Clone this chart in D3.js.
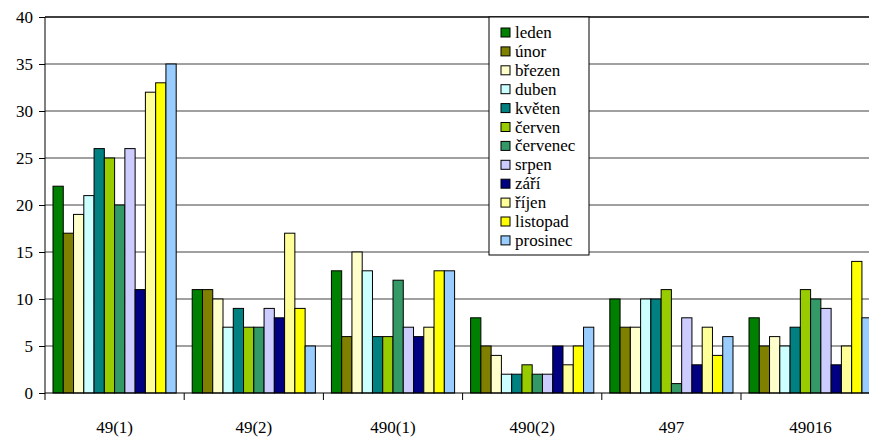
<!DOCTYPE html>
<html>
<head>
<meta charset="utf-8">
<script src="https://cdn.jsdelivr.net/npm/d3@7"></script>
<style>
  body { margin: 0; background: #fff; }
  svg text { font-family: "Liberation Serif", "Times New Roman", "DejaVu Serif", serif; }
</style>
</head>
<body>
<div class="CHART"></div>
<script>
// data
var groups = ["49(1)", "49(2)", "490(1)", "490(2)", "497", "49016"];
var months = ["leden", "únor", "březen", "duben", "květen", "červen",
              "červenec", "srpen", "září", "říjen", "listopad", "prosinec"];
var colors = ["#008000", "#808000", "#FFFFCC", "#CCFFFF", "#008080", "#99CC00",
              "#339966", "#CCCCFF", "#000080", "#FFFF99", "#FFFF00", "#99CCFF"];
var v491   = [22, 17, 19, 21, 26, 25, 20, 26, 11, 32, 33, 35];
var v492   = [11, 11, 10, 7, 9, 7, 7, 9, 8, 17, 9, 5];
var v4901  = [13, 6, 15, 13, 6, 6, 12, 7, 6, 7, 13, 13];
var v4902  = [8, 5, 4, 2, 2, 3, 2, 2, 5, 3, 5, 7];
var v497   = [10, 7, 7, 10, 10, 11, 1, 8, 3, 7, 4, 6];
var v49016 = [8, 5, 6, 5, 7, 11, 10, 9, 3, 5, 14, 8];
var yTicks = [0, 5, 10, 15, 20, 25, 30, 35, 40];

var series = [v491, v492, v4901, v4902, v497, v49016];

var W = 869, H = 437;
var mLeft = 45, mTop = 17, mBottom = 393;
var groupW = 139.2;

var svg = d3.select(".CHART").append("svg")
    .attr("width", W)
    .attr("height", H);

var x0 = d3.scaleBand()
    .domain(groups)
    .range([mLeft, mLeft + groupW * groups.length])
    .padding(0);

var x1 = d3.scaleBand()
    .domain(months)
    .range([0, x0.bandwidth()])
    .paddingInner(0)
    .paddingOuter(0.78);

var y = d3.scaleLinear()
    .domain([0, 40])
    .range([mBottom, mTop]);

// gridlines
svg.append("g").selectAll("line")
    .data(yTicks.filter(function(d) { return d > 0; }))
    .enter().append("line")
    .attr("x1", mLeft).attr("x2", W)
    .attr("y1", function(d) { return y(d); })
    .attr("y2", function(d) { return y(d); })
    .attr("stroke", function(d) { return d == 40 ? "#000" : "#808080"; })
    .attr("stroke-width", 1.5);

// bars
var g = svg.append("g").selectAll("g")
    .data(series)
    .enter().append("g")
    .attr("transform", function(d, i) { return "translate(" + x0(groups[i]) + ",0)"; });

g.selectAll("rect")
    .data(function(d) { return d; })
    .enter().append("rect")
    .attr("x", function(d, i) { return x1(months[i]); })
    .attr("y", function(d) { return y(d); })
    .attr("width", x1.bandwidth())
    .attr("height", function(d) { return y(0) - y(d); })
    .attr("fill", function(d, i) { return colors[i]; })
    .attr("stroke", "#000")
    .attr("stroke-width", 1);

// y axis
var yAxis = d3.axisLeft(y).tickValues(yTicks).tickSize(6).tickPadding(6);
var ya = svg.append("g")
    .attr("transform", "translate(" + mLeft + ",0)")
    .call(yAxis)
    .attr("font-family", null)
    .attr("font-size", 17);
ya.select(".domain").attr("stroke", "#000").attr("d", "M0," + mTop + "V" + mBottom);
ya.selectAll(".tick line").attr("stroke", "#000");
ya.selectAll("text").attr("fill", "#000");

// x axis
var xa = svg.append("g").attr("transform", "translate(0," + mBottom + ")");
xa.append("line")
    .attr("x1", mLeft).attr("x2", W)
    .attr("y1", 0).attr("y2", 0)
    .attr("stroke", "#000");
xa.selectAll(".tk")
    .data(groups.concat(["end"]))
    .enter().append("line")
    .attr("x1", function(d, i) { return mLeft + i * x0.step(); })
    .attr("x2", function(d, i) { return mLeft + i * x0.step(); })
    .attr("y1", 0).attr("y2", 7)
    .attr("stroke", "#000");
xa.selectAll("text")
    .data(groups)
    .enter().append("text")
    .attr("x", function(d) { return x0(d) + x0.bandwidth() / 2; })
    .attr("y", 40)
    .attr("text-anchor", "middle")
    .attr("font-size", 17)
    .text(function(d) { return d; });

// legend
var leg = svg.append("g").attr("transform", "translate(489,17)");
leg.append("rect")
    .attr("x", 0).attr("y", 0)
    .attr("width", 100).attr("height", 238)
    .attr("fill", "#fff")
    .attr("stroke", "#000");

var item = leg.selectAll(".it")
    .data(months)
    .enter().append("g")
    .attr("transform", function(d, i) { return "translate(0," + (16 + i * 18.9) + ")"; });

item.append("rect")
    .attr("x", 12).attr("y", -5)
    .attr("width", 9).attr("height", 9)
    .attr("fill", function(d, i) { return colors[i]; })
    .attr("stroke", "#000");

item.append("text")
    .attr("x", 26)
    .attr("y", 5)
    .attr("font-size", 17)
    .text(function(d) { return d; });
</script>
</body>
</html>
